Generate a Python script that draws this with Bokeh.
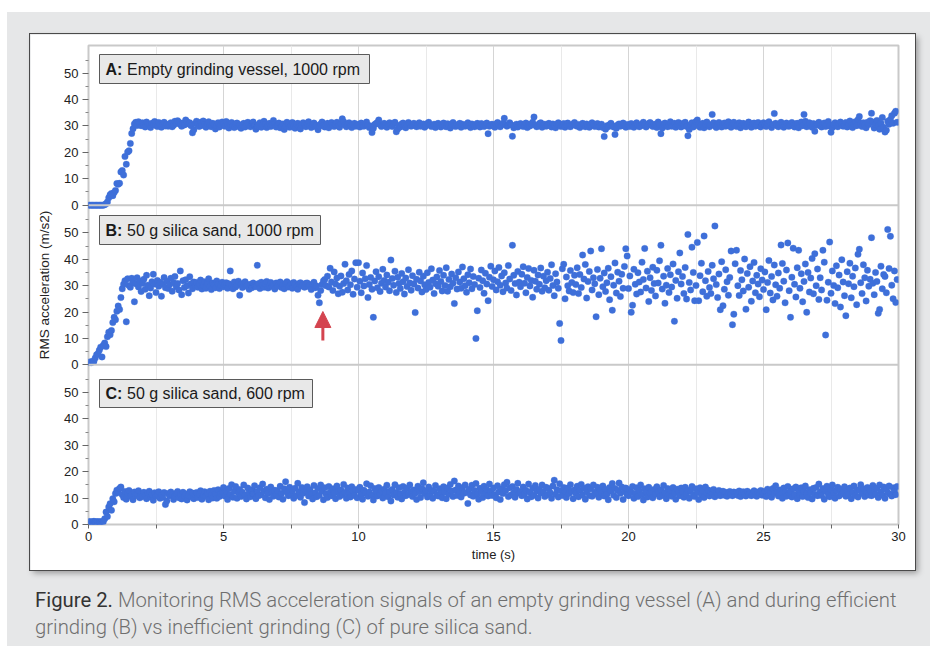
from bokeh.plotting import figure
from bokeh.layouts import column, row
from bokeh.models import (ColumnDataSource, FixedTicker, CustomJSTickFormatter, Span,
                          BoxAnnotation, Label, Arrow, NormalHead, Div, Spacer)
from bokeh.transform import dodge
from bokeh.embed import file_html
from bokeh.resources import INLINE

# ---------------- data ----------------
TIME_STEP = 0.05  # s between samples

A_VALUES = [
    0.0,0.0,0.0,0.0,0.0,0.0,0.0,0.0,0.0,0.0,0.0,0.0,0.2,0.5,1.2,2.8,3.9,4.4,3.6,4.8,
    5.6,8.2,7.9,8.3,12.6,13.1,11.4,18.4,15.5,20.1,20.6,23.4,27.2,29.0,30.8,31.4,30.2,31.6,30.9,30.1,
    31.2,30.4,29.6,31.5,30.8,30.1,29.4,31.0,30.6,31.7,30.2,29.8,31.3,30.5,29.5,30.9,31.4,30.0,30.7,29.9,
    30.6,31.2,29.7,30.3,31.8,30.9,32.0,31.4,30.6,29.9,31.1,30.4,32.3,31.6,30.8,31.2,30.1,27.4,28.6,30.9,
    31.8,30.6,29.8,31.4,30.2,31.9,30.7,29.5,30.9,31.6,30.3,29.7,31.0,30.5,28.9,30.1,31.2,29.6,30.4,31.5,
    30.8,29.9,31.7,30.4,29.2,30.6,31.3,30.0,29.4,30.8,31.1,29.8,30.5,29.1,30.2,31.0,29.6,30.7,31.4,30.3,
    29.7,30.9,31.5,30.2,28.8,29.9,30.6,31.2,29.5,30.3,31.8,30.7,29.4,30.1,31.0,29.8,30.5,32.1,30.9,29.6,
    30.4,31.1,29.3,30.0,30.8,28.7,29.9,31.4,30.6,29.5,30.2,31.3,30.0,29.1,30.7,31.0,29.6,28.9,30.3,31.2,
    30.5,29.7,30.9,31.6,30.1,29.4,30.6,31.1,29.8,30.3,28.6,29.9,30.8,31.5,30.2,29.6,30.4,31.0,29.3,30.7,
    31.3,30.2,29.8,30.6,31.4,30.0,29.5,30.9,32.7,31.6,30.4,29.7,30.8,31.2,30.1,29.4,30.5,31.0,29.9,30.3,
    30.7,29.6,31.1,30.2,29.9,30.8,31.5,30.3,29.4,30.0,27.5,29.1,30.6,30.9,31.3,32.3,30.5,29.8,30.2,31.0,
    30.1,29.5,30.7,31.2,30.4,29.8,30.9,31.4,27.8,28.9,30.2,29.6,30.8,31.1,30.0,29.3,30.5,31.3,30.6,29.9,
    30.4,31.0,30.2,29.7,30.6,31.2,29.9,30.3,30.8,29.5,30.1,30.9,31.4,30.5,29.8,30.2,30.7,29.4,30.6,31.0,
    30.3,29.6,30.5,31.1,30.0,29.7,30.9,30.4,29.2,30.6,31.3,30.1,29.8,30.5,30.2,31.0,29.5,30.7,30.3,29.9,
    30.6,31.2,30.0,29.4,30.8,30.3,29.7,30.5,31.0,30.1,29.6,30.9,30.4,29.8,30.2,31.1,27.1,29.9,30.5,30.7,
    30.0,29.5,30.8,31.3,30.2,29.7,30.4,31.0,32.9,30.6,29.9,30.3,31.2,30.5,26.1,29.3,30.1,30.7,29.6,30.4,
    30.9,30.2,29.8,30.5,31.1,29.4,30.6,30.0,30.8,31.4,33.4,30.3,29.7,30.1,30.9,31.2,29.5,30.4,30.7,29.9,
    30.2,31.0,30.5,29.6,30.8,30.1,29.3,30.7,31.2,30.4,29.8,30.3,30.9,29.5,30.6,31.1,30.0,29.7,30.4,30.8,
    31.3,30.2,29.9,30.6,29.4,30.3,31.0,30.5,29.7,30.8,30.1,29.5,30.4,31.2,30.6,29.8,30.3,30.9,29.6,30.2,
    30.7,29.4,26.0,28.8,30.1,29.7,30.5,31.0,30.2,29.6,26.8,29.1,30.4,30.8,29.9,30.3,31.1,30.0,29.5,30.6,
    30.4,29.8,30.9,30.1,29.5,30.6,31.2,30.3,29.7,30.0,30.8,31.4,30.5,29.6,30.2,30.9,31.3,30.4,29.8,30.7,
    30.1,29.4,31.5,30.6,27.1,29.2,30.8,31.1,30.3,29.7,30.5,31.6,29.9,30.2,31.0,29.5,30.7,31.3,30.0,29.6,
    30.9,30.3,31.4,29.8,26.3,28.7,30.5,31.2,29.6,30.1,31.7,32.3,30.8,29.5,30.4,31.0,29.3,30.6,31.5,30.2,
    29.7,30.5,34.4,31.2,30.0,29.4,30.8,31.3,30.2,29.6,30.7,31.1,29.9,30.4,31.6,30.1,29.5,30.9,31.4,30.3,
    29.8,30.6,31.2,29.3,30.4,31.0,30.1,29.7,30.8,31.5,30.3,29.5,30.9,31.1,29.9,30.5,31.3,30.0,29.6,30.7,
    31.2,30.4,29.8,30.9,31.6,30.2,29.4,30.6,34.7,31.0,30.1,29.7,30.8,31.4,30.3,29.5,30.5,31.1,30.0,29.9,
    30.6,31.3,30.2,29.6,30.8,31.0,29.3,30.4,31.5,30.1,34.4,31.8,29.7,30.5,31.2,30.0,29.5,30.9,28.0,30.3,
    30.7,31.4,30.1,29.6,30.5,31.1,29.8,30.3,31.7,30.0,27.6,29.4,30.6,31.2,30.2,29.7,30.9,31.5,30.4,29.9,
    30.5,31.3,29.6,30.8,31.9,30.2,29.4,30.7,31.6,30.1,32.4,33.6,30.9,29.8,31.2,30.5,29.3,31.4,30.6,32.0,
    34.8,31.5,29.2,30.6,32.1,30.3,28.8,31.0,33.2,29.5,27.7,28.4,31.8,30.7,32.5,33.9,31.0,34.8,35.6,31.4,
]

B_VALUES = [
    0.9,1.1,0.8,1.4,1.3,2.6,3.8,4.2,5.5,6.7,3.0,7.4,8.3,6.9,10.6,12.3,11.4,13.0,16.0,18.0,
    17.1,20.3,22.3,21.0,25.5,28.8,30.5,31.9,16.3,32.6,30.1,29.4,32.8,31.2,23.9,30.7,33.0,29.5,31.8,27.8,
    30.9,32.4,28.6,33.9,30.2,26.2,29.1,31.5,34.3,30.6,27.4,32.0,29.8,31.3,26.0,30.5,33.1,29.2,31.7,28.9,
    30.3,32.8,27.9,31.1,33.5,29.6,30.8,28.4,35.6,26.6,31.9,29.3,32.2,30.0,27.2,33.4,30.7,28.8,31.4,29.9,
    31.2,29.4,30.6,32.1,28.7,30.2,31.5,29.0,30.9,32.6,29.7,28.5,31.0,30.3,29.2,31.8,30.5,28.9,30.1,31.3,
    29.6,30.4,31.1,29.0,30.7,35.6,30.0,28.8,31.4,29.5,30.2,31.7,26.4,30.6,29.3,30.9,31.5,29.8,30.3,28.6,
    30.5,29.2,31.0,30.1,29.6,37.7,30.8,28.9,31.3,30.2,29.4,30.7,31.6,29.1,30.0,31.2,29.7,30.4,28.7,31.0,
    29.8,30.6,31.4,29.3,30.2,28.8,30.9,31.5,29.5,30.1,30.7,29.0,31.2,30.4,29.6,28.6,30.8,31.1,29.9,30.3,
    29.4,30.9,31.0,29.7,30.2,28.5,30.6,31.3,29.2,29.9,26.4,23.5,28.2,30.4,31.8,32.3,30.0,33.6,29.5,36.6,
    31.4,28.2,35.2,30.6,32.9,26.9,29.8,33.7,27.5,30.8,38.1,31.9,28.4,34.2,30.3,35.6,26.7,32.5,38.7,29.4,
    38.7,31.7,27.3,34.8,29.9,32.6,37.6,25.5,30.4,33.1,28.6,18.0,31.8,35.3,29.2,33.4,27.8,30.9,36.2,32.0,
    29.5,34.0,31.3,28.1,39.7,32.7,30.2,35.5,27.4,33.2,30.8,28.9,34.6,31.5,26.8,32.9,29.7,36.0,31.0,28.3,
    33.8,30.6,19.8,32.4,29.1,35.1,31.8,27.6,33.6,30.3,28.5,34.9,31.2,29.4,36.4,32.1,27.0,30.7,33.3,29.8,
    35.7,31.6,28.0,33.9,30.1,36.8,27.9,32.3,29.6,34.4,30.9,23.2,33.0,28.7,35.2,31.4,29.0,37.1,32.6,30.0,
    27.5,34.1,31.1,36.3,28.8,33.5,30.4,10.0,20.5,32.8,29.3,35.9,31.9,27.1,34.7,30.6,24.3,33.2,37.4,29.7,
    32.2,35.6,28.4,31.5,36.9,30.2,33.7,27.7,34.9,31.0,29.1,37.6,32.5,28.2,45.3,33.9,30.8,26.5,35.4,31.3,
    29.6,34.3,37.2,30.9,27.3,33.1,36.5,29.9,32.0,25.6,35.8,31.7,28.6,34.0,30.5,36.7,27.9,33.6,29.2,31.9,
    35.1,28.3,32.7,37.9,30.1,26.2,34.5,31.4,29.0,15.7,9.2,36.4,38.1,25.0,33.3,30.0,28.0,35.7,31.2,27.4,
    33.9,30.4,36.8,27.0,34.2,29.3,41.6,32.5,38.0,25.3,31.6,35.4,43.1,28.4,33.0,30.7,18.2,36.1,26.6,32.8,
    44.0,29.6,34.8,27.8,31.1,36.6,24.7,33.4,20.7,30.2,38.6,27.2,35.1,31.7,25.9,34.3,29.0,37.3,44.0,41.2,
    28.9,33.7,19.9,22.6,36.2,30.5,26.8,34.9,31.4,27.6,38.9,32.3,44.1,29.1,35.5,24.0,33.0,28.2,37.0,30.8,
    26.1,35.8,31.0,39.4,45.3,28.7,33.6,23.3,30.2,36.5,27.4,34.1,29.5,38.2,16.5,32.0,25.2,35.3,42.4,30.6,
    33.5,27.0,36.9,24.9,49.4,31.2,28.4,44.6,35.0,24.3,30.1,46.4,24.3,33.8,38.5,27.7,48.8,31.9,26.0,35.4,
    29.3,27.0,37.7,32.6,52.6,30.4,25.5,34.4,20.9,39.1,22.4,28.6,36.0,31.5,26.4,33.1,43.1,15.2,19.2,38.3,
    43.4,30.0,26.3,35.7,32.2,28.0,40.1,21.1,34.6,29.4,37.2,24.1,31.8,38.8,27.3,33.9,30.6,25.8,36.4,32.1,
    28.5,35.2,20.9,31.2,39.5,27.2,33.5,24.6,37.8,30.3,26.0,34.8,29.0,45.4,38.4,31.7,23.5,35.9,46.2,28.1,
    18.0,33.2,44.2,30.5,25.7,36.8,43.4,29.0,34.5,23.9,31.6,38.2,19.9,35.0,27.6,32.9,40.3,26.9,42.1,30.0,
    36.3,24.8,33.0,28.4,43.4,38.9,11.3,24.5,31.3,46.5,27.1,35.6,30.1,23.2,37.5,29.2,34.0,21.9,39.8,31.4,
    26.2,18.6,35.3,30.7,38.5,25.4,33.6,29.6,36.7,22.8,41.9,43.8,31.1,27.0,37.9,33.0,24.2,35.8,29.8,32.4,
    48.2,30.9,26.6,35.0,31.6,19.5,21.0,37.4,28.8,34.2,33.5,27.3,51.3,36.5,48.7,30.2,25.0,35.6,23.6,32.3,
]

C_VALUES = [
    1.0,1.1,0.9,1.0,1.2,0.9,1.0,1.1,0.9,1.0,1.1,1.0,2.2,4.7,3.0,6.6,7.9,5.4,9.8,8.6,
    11.7,13.0,12.1,13.6,14.2,11.3,10.2,12.5,9.6,11.8,12.9,10.7,11.2,9.4,12.3,10.9,11.6,12.8,10.1,11.4,
    10.6,12.2,11.0,9.8,11.9,12.6,10.4,11.3,9.2,12.0,10.8,11.5,12.4,9.9,11.1,10.3,12.1,7.6,8.9,11.7,
    10.9,12.3,11.2,9.5,10.6,11.8,12.5,10.1,11.4,9.7,12.2,10.8,11.6,9.3,11.0,12.4,10.5,11.9,9.8,11.3,
    12.1,10.2,11.5,12.8,9.6,11.0,12.4,10.7,11.8,9.4,12.6,11.2,10.0,12.9,11.5,9.9,13.2,10.6,11.7,12.3,
    14.0,10.8,12.5,9.5,13.6,11.4,15.1,10.3,12.7,14.4,9.9,11.9,13.3,10.6,12.2,15.0,11.1,9.7,13.8,12.0,
    10.5,13.1,11.6,14.7,9.8,12.4,10.9,13.9,11.3,15.3,12.6,10.1,13.4,11.8,9.5,14.2,12.1,10.7,13.0,11.5,
    12.8,10.4,14.5,11.7,9.6,13.5,16.2,12.3,10.9,14.1,11.2,12.9,9.9,13.7,11.0,15.6,12.4,10.3,14.0,11.8,
    8.3,12.6,14.3,10.8,13.2,11.5,9.7,14.8,12.0,10.5,13.6,11.1,15.0,12.7,9.4,13.9,11.6,10.2,14.4,12.2,
    10.9,13.5,11.9,9.8,14.6,12.5,10.6,13.1,11.3,15.2,12.1,9.9,13.8,11.7,10.4,14.3,12.8,11.0,13.3,10.1,
    12.9,14.1,11.4,9.6,13.0,11.8,15.4,10.7,12.3,14.7,11.1,9.3,13.6,12.4,10.8,14.0,11.5,12.7,10.0,13.4,
    11.9,14.9,10.5,12.6,8.9,13.3,11.2,15.1,12.0,10.3,13.9,11.6,9.7,14.4,12.2,10.9,13.7,11.4,15.0,12.5,
    10.6,13.1,11.8,9.5,14.5,12.4,10.2,13.6,15.8,11.7,12.8,10.4,14.2,11.1,13.0,9.9,12.6,14.8,11.3,10.8,
    13.5,11.9,10.1,14.3,12.2,9.8,13.8,11.5,15.2,12.7,10.6,16.5,13.1,11.0,14.6,12.3,10.4,13.9,11.8,15.0,
    12.1,8.0,13.4,11.2,14.9,10.7,12.9,15.5,11.6,9.6,13.7,12.4,10.2,14.5,11.9,13.2,10.8,15.3,12.6,11.0,
    13.8,11.4,10.1,14.7,12.3,9.5,13.5,11.7,15.1,12.8,16.0,10.6,13.9,11.2,14.4,12.0,10.3,13.3,15.6,11.8,
    12.5,10.9,14.2,11.6,13.0,9.7,15.3,12.2,10.5,13.7,11.1,14.8,12.7,10.0,13.4,11.9,15.0,12.4,10.6,14.1,
    11.3,13.6,12.0,9.9,14.6,16.8,11.5,13.2,10.4,15.4,12.8,11.0,14.0,12.3,10.2,13.8,11.7,15.1,12.6,9.8,
    13.1,11.8,14.5,10.5,12.9,15.2,11.2,13.7,9.6,12.4,14.3,11.0,13.5,10.7,15.0,12.2,11.6,14.1,10.3,13.0,
    12.0,14.6,10.8,13.3,11.5,9.4,14.0,12.7,15.5,11.1,13.6,10.2,12.9,15.7,11.8,14.2,9.5,12.5,13.8,11.3,
    10.9,13.2,12.1,14.4,9.9,11.7,13.9,10.6,12.8,15.0,11.4,9.3,13.5,12.3,10.4,14.1,11.9,12.6,10.1,13.3,
    11.6,14.3,12.4,10.5,13.1,11.0,14.8,12.0,9.8,13.6,11.4,12.9,10.7,14.0,11.8,9.6,13.4,12.2,10.9,13.8,
    12.5,10.3,14.1,11.6,13.0,9.9,12.7,14.4,11.2,10.6,13.5,12.1,9.5,13.9,11.5,12.8,10.2,14.2,11.9,13.1,
    10.8,12.4,11.7,13.3,10.5,12.0,11.3,12.9,10.9,11.6,12.6,11.1,12.2,10.7,11.8,12.5,11.4,10.9,12.3,11.6,
    12.1,11.0,12.7,10.6,11.9,12.4,11.3,10.8,12.6,11.5,12.0,10.9,11.7,12.8,11.2,10.7,12.3,11.6,12.9,11.1,
    11.8,12.5,10.6,13.4,11.2,12.0,10.3,13.6,11.7,14.7,12.3,10.8,13.1,11.5,9.9,13.8,12.2,10.7,14.4,11.9,
    12.6,10.4,13.5,11.3,14.2,9.8,12.8,11.1,13.9,10.6,12.4,14.6,11.7,10.2,13.2,12.0,9.7,13.7,11.5,14.0,
    10.9,15.3,12.3,11.0,13.6,9.6,12.7,14.5,11.4,10.5,13.1,15.0,11.8,9.9,12.9,14.1,10.8,13.4,11.6,12.2,
    14.3,10.7,12.5,11.3,13.8,9.8,12.1,14.6,11.0,13.2,10.4,12.9,15.1,11.7,13.5,10.6,12.4,14.0,11.2,13.0,
    10.9,14.8,12.6,11.4,13.7,10.2,15.0,12.3,11.1,14.2,9.9,13.4,12.0,14.6,11.5,10.8,13.9,12.7,11.3,14.4,
]

PANEL_KEYS = ["A:", "B:", "C:"]
PANEL_TEXTS = ["Empty grinding vessel, 1000 rpm", "50 g silica sand, 1000 rpm", "50 g silica sand, 600 rpm"]
Y_MAJOR = [0, 10, 20, 30, 40, 50]
Y_MINOR = [5, 15, 25, 35, 45, 55]
X_MAJOR = [0, 5, 10, 15, 20, 25, 30]
X_MINOR = [2.5, 7.5, 12.5, 17.5, 22.5, 27.5]
PANEL_SPAN = 60.5          # y extent of one panel (m/s2)
ARROW_TIME = 8.68          # s, onset marker in panel B
ARROW_FROM, ARROW_TO = 9.2, 20.2

# ---------------- styling / layout constants ----------------
BLUE = "#3e6fd9"
RED = "#d4444f"
FONT = "Liberation Sans"
FRAME_W, FRAME_H = 810, 479
X_MAX = 30
Y_MAX = 3 * PANEL_SPAN
DX = X_MAX / FRAME_W       # data per px
DY = Y_MAX / FRAME_H

offsets = [2 * PANEL_SPAN, PANEL_SPAN, 0.0]   # A top, B middle, C bottom

p = figure(width=885, height=536, x_range=(0, X_MAX), y_range=(0, Y_MAX),
           output_backend="svg", toolbar_location=None,
           min_border_left=58, min_border_right=17, min_border_top=11, min_border_bottom=46)
p.background_fill_color = "white"
p.border_fill_color = "white"
p.outline_line_color = "#c9c9c9"
p.outline_line_width = 2
p.styles = {"box-shadow": "0 0 0 1px #4a4a4a, 3px 3px 6px rgba(0,0,0,0.35)"}

# grids
p.ygrid.visible = False
p.xgrid.ticker = FixedTicker(ticks=X_MAJOR, minor_ticks=X_MINOR)
p.xgrid.grid_line_color = "#d5d5d5"
p.xgrid.grid_line_width = 1
p.xgrid.minor_grid_line_color = "#e9e9e9"

# x axis
xa = p.xaxis[0]
xa.ticker = FixedTicker(ticks=X_MAJOR, minor_ticks=X_MINOR)
xa.axis_line_color = None
xa.major_tick_line_color = "#666666"
xa.minor_tick_line_color = "#666666"
xa.major_tick_out = 4
xa.major_tick_in = 0
xa.minor_tick_out = 4
xa.minor_tick_in = 0
xa.major_label_standoff = 3
xa.major_label_text_font = FONT
xa.major_label_text_font_size = "13px"
xa.major_label_text_color = "#222222"
xa.axis_label = "time (s)"
xa.axis_label_text_font = FONT
xa.axis_label_text_font_size = "13px"
xa.axis_label_text_font_style = "normal"
xa.axis_label_text_color = "#222222"
xa.axis_label_standoff = 3

# y axis (three stacked panels share one frame)
ya = p.yaxis[0]
ya.ticker = FixedTicker(ticks=[o + v for o in offsets for v in Y_MAJOR],
                        minor_ticks=[o + v for o in offsets for v in Y_MINOR])
ya.formatter = CustomJSTickFormatter(args=dict(span=PANEL_SPAN), code="""
    const k = Math.floor((tick + 1e-6) / span);
    return Math.round(tick - k * span).toString();
""")
ya.axis_line_color = None
ya.major_tick_line_color = "#666666"
ya.minor_tick_line_color = "#888888"
ya.major_tick_out = 6
ya.major_tick_in = 0
ya.minor_tick_out = 3
ya.minor_tick_in = 0
ya.major_label_standoff = 4
ya.major_label_text_font = FONT
ya.major_label_text_font_size = "13px"
ya.major_label_text_color = "#222222"
ya.axis_label = "RMS acceleration (m/s2)"
ya.axis_label_text_font = FONT
ya.axis_label_text_font_size = "13.5px"
ya.axis_label_text_font_style = "normal"
ya.axis_label_text_color = "#222222"
ya.axis_label_standoff = 9

# panel separators
for loc in offsets[:2]:
    p.add_layout(Span(location=loc, dimension="width", line_color="#c9c9c9", line_width=2))

# data
for vals, off in zip([A_VALUES, B_VALUES, C_VALUES], offsets):
    src = ColumnDataSource(dict(t=[round(i * TIME_STEP, 3) for i in range(len(vals))], v=vals))
    p.scatter(x="t", y=dodge("v", off), source=src, size=6.5,
              fill_color=BLUE, line_color=BLUE, line_width=0.3)

# panel labels (box geometry in px from frame's top-left)
BOXES = [(11, 281, 9, 38), (11, 232, 170, 199), (11, 224, 334, 362)]
for key, txt, (l, r, t, b) in zip(PANEL_KEYS, PANEL_TEXTS, BOXES):
    p.add_layout(BoxAnnotation(left=l * DX, right=r * DX, top=Y_MAX - t * DY, bottom=Y_MAX - b * DY,
                               fill_color="#e8e8e8", fill_alpha=1.0,
                               line_color="#5a5a5a", line_width=1, line_alpha=1.0))
    ymid = Y_MAX - (t + b) / 2 * DY
    p.add_layout(Label(x=(l + 6) * DX, y=ymid, text=key, text_font=FONT, text_font_size="16px",
                       text_font_style="bold", text_color="#1a1a1a", text_baseline="middle"))
    p.add_layout(Label(x=(l + 27.5) * DX, y=ymid, text=txt, text_font=FONT, text_font_size="16px",
                       text_color="#1a1a1a", text_baseline="middle"))

# arrow marking the onset in panel B
p.add_layout(Arrow(x_start=ARROW_TIME, y_start=PANEL_SPAN + ARROW_FROM,
                   x_end=ARROW_TIME, y_end=PANEL_SPAN + ARROW_TO,
                   line_color=RED, line_width=3,
                   end=NormalHead(size=16, fill_color=RED, line_color=RED, line_width=1)))

caption = Div(
    text=('<div style="font-family:Roboto, \'Liberation Sans\', sans-serif; font-weight:300; '
          'font-size:20.3px; line-height:27px; color:#6f6f6f; white-space:nowrap;">'
          '<span style="color:#333333; font-weight:400;">Figure 2.</span> Monitoring RMS acceleration '
          'signals of an empty grinding vessel (A) and during efficient<br>'
          'grinding (B) vs inefficient grinding (C) of pure silica sand.</div>'),
    width=890, height=60)

grey = column(
    Spacer(width=923, height=22),
    row(Spacer(width=23, height=536), p),
    Spacer(width=923, height=12),
    row(Spacer(width=23, height=60), caption),
    width=923, height=634, styles={"background-color": "#e6e7e8"})

root = column(Spacer(width=930, height=12),
              row(Spacer(width=7, height=634), grey),
              width=930, height=646)

open("out.html", "w").write(file_html(root, INLINE))
